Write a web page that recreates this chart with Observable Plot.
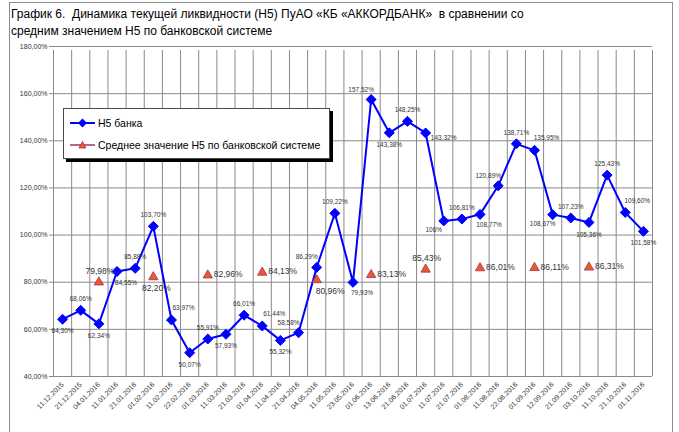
<!DOCTYPE html>
<html>
<head>
<meta charset="utf-8">
<script src="https://cdn.jsdelivr.net/npm/d3@7"></script>
<script src="https://cdn.jsdelivr.net/npm/@observablehq/plot@0.6"></script>
<style>
  html, body { margin: 0; padding: 0; background: #fff; }
  #wrap { position: relative; width: 679px; height: 432px; overflow: hidden; font-family: "Liberation Sans", Arial, sans-serif; }
  #frame { position: absolute; left: 9px; top: 2px; width: 662px; height: 460px; border: 1px solid #8c8c8c; }
  #title { position: absolute; left: 11px; top: 6px; font-size: 12px; line-height: 17px; color: #000; white-space: nowrap; }
  #chart { position: absolute; left: 0; top: 40px; }
  #legend { position: absolute; left: 63px; top: 108px; width: 265px; height: 49px; background: #fff; border: 1px solid #4a4a4a; box-shadow: 3px 3px 0 #000; font-size: 10.5px; color: #000; }
  #legend .row { position: absolute; left: 6px; display: flex; align-items: center; white-space: nowrap; }
  #legend svg { display: block; margin-right: 3px; }
</style>
</head>
<body>
<div id="wrap">
  <div id="frame"></div>
  <div id="title">График 6.&nbsp; Динамика текущей ликвидности (Н5) ПуАО «КБ «АККОРДБАНК»&nbsp; в сравнении со<br>средним значением Н5 по банковской системе</div>
  <div id="chart"></div>
  <div id="legend">
    <div class="row" style="top:8px">
      <svg width="25" height="12"><line x1="0" y1="6" x2="25" y2="6" stroke="#0000FF" stroke-width="2"/><path d="M12.5,1.5 L17,6 L12.5,10.5 L8,6 Z" fill="#0000FF"/></svg>
      <span>Н5 банка</span>
    </div>
    <div class="row" style="top:30px">
      <svg width="25" height="12"><line x1="0" y1="6" x2="25" y2="6" stroke="#A0306A" stroke-width="1.5"/><path d="M12.5,2.5 L16,9 L9,9 Z" fill="#EE5A24" stroke="#993366" stroke-width="0.8"/></svg>
      <span>Среднее значение Н5 по банковской системе</span>
    </div>
  </div>
</div>
<script>
const dates = ["11.12.2015","21.12.2015","04.01.2016","11.01.2016","21.01.2016","01.02.2016","11.02.2016","22.02.2016","01.03.2016","11.03.2016","21.03.2016","01.04.2016","11.04.2016","21.04.2016","04.05.2016","11.05.2016","23.05.2016","01.06.2016","13.06.2016","21.06.2016","01.07.2016","11.07.2016","21.07.2016","01.08.2016","11.08.2016","22.08.2016","01.09.2016","12.09.2016","21.09.2016","03.10.2016","11.10.2016","21.10.2016","01.11.2016"];
const bankValues = [64.30,68.06,62.34,84.55,85.88,103.70,63.97,50.07,55.91,57.93,66.01,61.44,55.32,58.58,86.29,109.22,79.93,157.52,143.38,148.25,143.32,106,106.81,108.77,120.89,138.71,135.95,108.67,107.23,105.36,125.43,109.60,101.58];
const bankLabelPos = ["b","a","b","br","a","a","ar","b","a","b","a","ar","b","al","al","a","br","al","b","a","r","bl","a","br","al","a","ar","bl","a","b","a","ar","b"];
const avgDates = ["04.01.2016","01.02.2016","01.03.2016","01.04.2016","04.05.2016","01.06.2016","01.07.2016","01.08.2016","01.09.2016","03.10.2016"];
const avgValues = [79.98,82.20,82.96,84.13,80.96,83.13,85.43,86.01,86.11,86.31];
const avgLabelPos = ["a","b","r","r","br","r","a","r","r","r"];
const yTicks = [40,60,80,100,120,140,160,180];

const fmt = v => Number.isInteger(v) ? v + "%" : v.toFixed(2).replace(".", ",") + "%";

const bank = bankValues.map((v, i) => ({i, v, label: fmt(v), pos: bankLabelPos[i]}));
const avg = avgValues.map((v, k) => ({i: dates.indexOf(avgDates[k]), v, label: fmt(v), pos: avgLabelPos[k]}));

const bankOff = {a:[0,-11,"middle"], b:[0,12,"middle"], ar:[12,-12,"middle"], al:[-10,-10,"middle"], br:[9,11,"middle"], bl:[-10,9,"middle"], r:[18,5,"middle"]};
const avgOff = {a:[1,-11,"middle"], b:[3,11,"middle"], r:[6,-1,"start"], br:[-1,11,"start"]};

const bankText = Object.entries(bankOff).map(([k,[dx,dy,anchor]]) =>
  Plot.text(bank.filter(d => d.pos === k), {x: "i", y: "v", text: "label", dx, dy, textAnchor: anchor, fontSize: 6.5, fill: "#333333"}));
const avgText = Object.entries(avgOff).map(([k,[dx,dy,anchor]]) =>
  Plot.text(avg.filter(d => d.pos === k), {x: "i", y: "v", text: "label", dx, dy, textAnchor: anchor, fontSize: 8.5, fill: "#333333"}));

const bounds = d3.range(dates.length + 1).map(i => i - 0.5);

const chart = Plot.plot({
  width: 679,
  height: 392,
  marginLeft: 53,
  marginRight: 27,
  marginTop: 6,
  marginBottom: 56,
  style: {fontFamily: "Liberation Sans, Arial, sans-serif", background: "transparent", overflow: "visible"},
  x: {type: "linear", domain: [-0.5, dates.length - 0.5]},
  y: {domain: [40, 180]},
  marks: [
    Plot.ruleY(yTicks, {stroke: "#8a8a8a", strokeWidth: 1}),
    Plot.ruleX(bounds, {y1: 40, y2: 180, stroke: "#8a8a8a", strokeWidth: 1, insetBottom: -4}),
    Plot.axisY(yTicks, {tickFormat: d => d.toFixed(2).replace(".", ",") + "%", tickSize: 4, tickPadding: 2, fontSize: 7, fill: "#333333", stroke: "#8a8a8a", label: null}),
    Plot.axisX(d3.range(dates.length), {tickFormat: i => dates[i], tickRotate: -45, tickSize: 0, tickPadding: 7, fontSize: 7, fill: "#333333", label: null}),
    Plot.line(bank, {x: "i", y: "v", stroke: "#0000FF", strokeWidth: 2}),
    Plot.dot(bank, {x: "i", y: "v", symbol: "diamond2", r: 4.5, fill: "#0000FF", stroke: "#0000FF", strokeWidth: 1}),
    Plot.dot(avg, {x: "i", y: "v", symbol: "triangle", r: 3.5, fill: "#EE5A24", stroke: "#993366", strokeWidth: 0.8}),
    ...bankText,
    ...avgText
  ]
});
document.getElementById("chart").appendChild(chart);
</script>
</body>
</html>
